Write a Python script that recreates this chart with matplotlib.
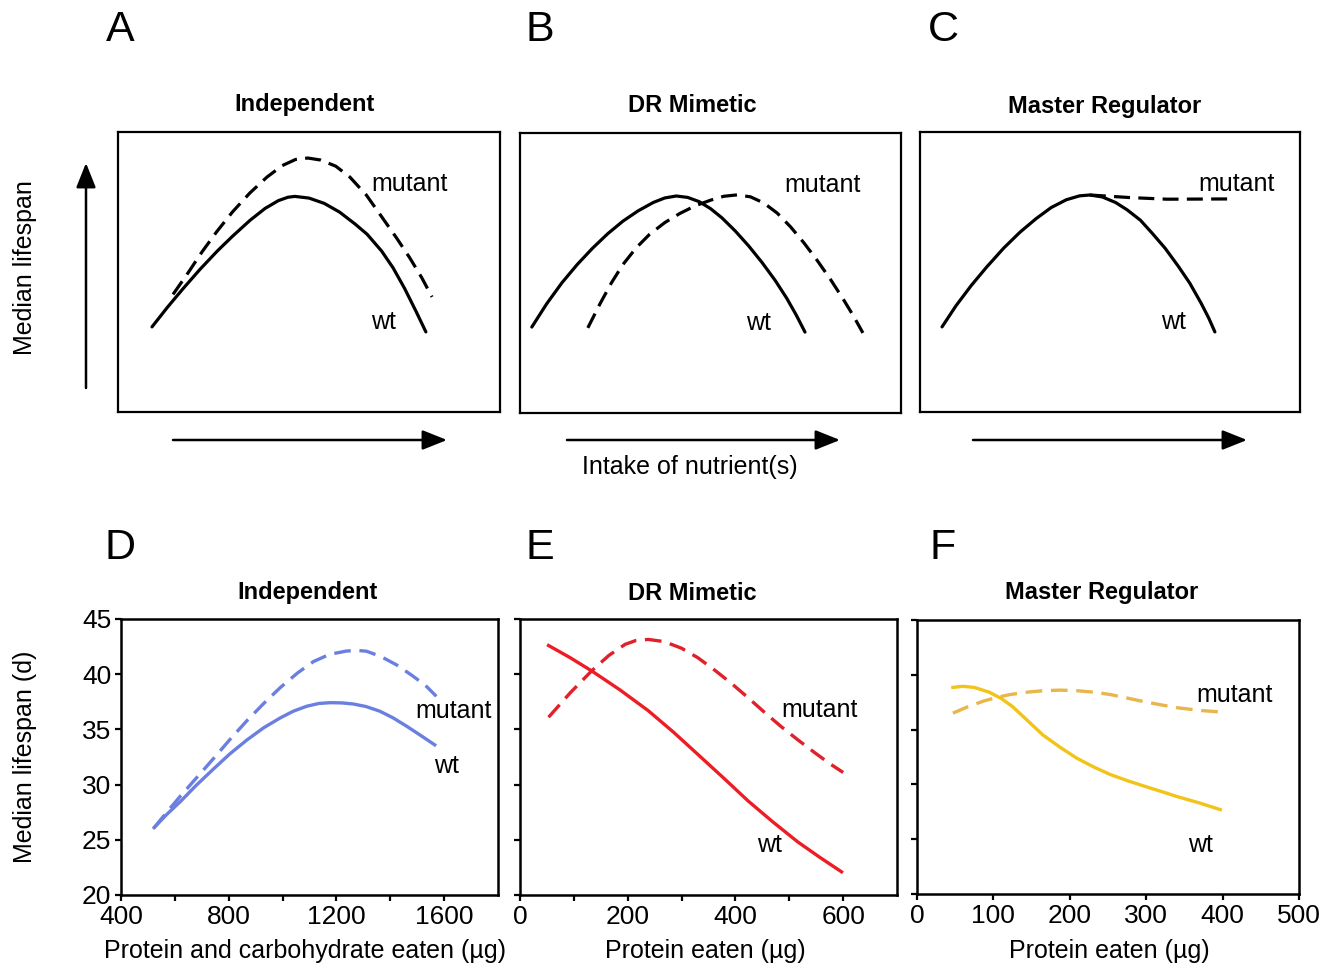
import matplotlib
matplotlib.use("Agg")
import matplotlib.pyplot as plt
from matplotlib.patches import FancyArrowPatch
import numpy as np

plt.rcParams['font.family'] = ['Liberation Sans', 'DejaVu Sans']

# ---- top row: schematic curves (arbitrary units, 0-10) ----
a_wt_x = [0.89, 1.3, 1.7, 2.15, 2.6, 3.0, 3.46, 3.85, 4.2, 4.45, 4.63, 5.0, 5.4, 5.8, 6.2, 6.52, 6.9, 7.2, 7.5, 7.8, 8.06]
a_wt_y = [3.04, 3.75, 4.4, 5.1, 5.75, 6.28, 6.85, 7.27, 7.55, 7.67, 7.7, 7.64, 7.45, 7.14, 6.72, 6.35, 5.75, 5.15, 4.42, 3.6, 2.86]
a_mut_x = [1.44, 1.8, 2.2, 2.59, 3.0, 3.45, 3.9, 4.3, 4.65, 4.97, 5.3, 5.7, 6.07, 6.5, 6.94, 7.3, 7.64, 7.95, 8.22]
a_mut_y = [4.2, 4.9, 5.72, 6.45, 7.15, 7.82, 8.39, 8.8, 9.02, 9.07, 9.0, 8.78, 8.39, 7.75, 6.9, 6.2, 5.5, 4.8, 4.11]

b_wt_x = [0.31, 0.7, 1.1, 1.5, 1.9, 2.3, 2.7, 3.1, 3.5, 3.8, 4.1, 4.4, 4.7, 5.0, 5.3, 5.65, 6.0, 6.35, 6.7, 7.0, 7.25, 7.48]
b_wt_y = [3.07, 3.9, 4.65, 5.3, 5.88, 6.4, 6.85, 7.22, 7.52, 7.68, 7.75, 7.7, 7.55, 7.3, 6.97, 6.5, 5.97, 5.38, 4.73, 4.1, 3.5, 2.89]
b_mut_x = [1.78, 2.1, 2.4, 2.7, 3.05, 3.4, 3.8, 4.2, 4.6, 5.0, 5.35, 5.7, 6.05, 6.4, 6.75, 7.1, 7.45, 7.8, 8.15, 8.5, 8.75, 9.0]
b_mut_y = [3.04, 3.9, 4.65, 5.3, 5.9, 6.38, 6.8, 7.13, 7.4, 7.6, 7.74, 7.79, 7.72, 7.5, 7.14, 6.65, 6.08, 5.45, 4.77, 4.03, 3.47, 2.86]

c_wt_x = [0.58, 0.95, 1.35, 1.75, 2.2, 2.63, 3.05, 3.45, 3.85, 4.2, 4.47, 4.8, 5.15, 5.45, 5.8, 6.1, 6.45, 6.8, 7.1, 7.4, 7.6, 7.76]
c_wt_y = [3.04, 3.8, 4.52, 5.17, 5.85, 6.42, 6.9, 7.3, 7.58, 7.72, 7.75, 7.68, 7.48, 7.22, 6.85, 6.4, 5.85, 5.2, 4.6, 3.88, 3.35, 2.86]
c_mut_x = [4.47, 5.5, 6.5, 8.24]
c_mut_y = [7.75, 7.66, 7.6, 7.61]

# ---- bottom row: median lifespan (d) ----
d_wt_x = [523, 570, 622, 680, 745, 805, 868, 930, 992, 1040, 1090, 1135, 1176, 1220, 1263, 1310, 1361, 1410, 1460, 1510, 1565]
d_wt_y = [26.1, 27.3, 28.5, 29.95, 31.45, 32.8, 34.05, 35.15, 36.05, 36.65, 37.1, 37.35, 37.42, 37.4, 37.3, 37.07, 36.65, 36.05, 35.3, 34.5, 33.6]
d_mut_x = [523, 570, 622, 680, 745, 805, 868, 930, 992, 1055, 1115, 1175, 1238, 1280, 1312, 1365, 1423, 1480, 1530, 1571]
d_mut_y = [26.1, 27.5, 29.0, 30.6, 32.4, 34.1, 35.8, 37.35, 38.8, 40.1, 41.15, 41.8, 42.1, 42.15, 42.08, 41.6, 40.85, 39.9, 39.0, 38.0]

e_wt_x = [53, 93, 133, 185, 238, 285, 331, 378, 424, 470, 516, 557, 597]
e_wt_y = [42.6, 41.5, 40.3, 38.6, 36.7, 34.75, 32.7, 30.6, 28.5, 26.6, 24.8, 23.4, 22.1]
e_mut_x = [53, 93, 133, 165, 195, 215, 238, 268, 300, 330, 362, 393, 424, 455, 485, 516, 547, 575, 600]
e_mut_y = [36.1, 38.3, 40.3, 41.7, 42.7, 43.05, 43.15, 42.95, 42.35, 41.5, 40.35, 39.15, 37.85, 36.5, 35.25, 34.05, 32.9, 31.9, 31.1]

f_wt_x = [47, 60, 75, 95, 110, 125, 145, 165, 187, 209, 231, 253, 275, 297, 320, 340, 370, 397]
f_wt_y = [38.85, 38.95, 38.85, 38.4, 37.85, 37.1, 35.8, 34.5, 33.4, 32.4, 31.6, 30.9, 30.35, 29.85, 29.35, 28.9, 28.3, 27.7]
f_mut_x = [47, 67, 87, 105, 122, 145, 165, 187, 209, 231, 253, 275, 297, 320, 340, 370, 399]
f_mut_y = [36.5, 37.1, 37.6, 37.95, 38.2, 38.42, 38.55, 38.6, 38.55, 38.42, 38.2, 37.88, 37.55, 37.25, 37.0, 36.75, 36.6]

titles = ["Independent", "DR Mimetic", "Master Regulator"]
letters_top = ["A", "B", "C"]
letters_bottom = ["D", "E", "F"]
xlabels = ["Protein and carbohydrate eaten (\u00b5g)", "Protein eaten (\u00b5g)", "Protein eaten (\u00b5g)"]

W, H = 1339, 968
fig = plt.figure(figsize=(W / 100, H / 100), dpi=100)


def box(left, top, right, bottom):
    return [left / W, 1 - bottom / H, (right - left) / W, (bottom - top) / H]


def ftext(x, y, s, **kw):
    # place text by pixel position (from the top-left corner)
    return fig.text(x / W, 1 - y / H, s, ha='center', va='center', **kw)


FS = 18
TFS = 17
dash = (5, 2.6)

# top row
top_boxes = [(118, 132, 500, 412), (520, 133, 901, 413), (920, 132, 1300, 412)]
top_data = [(a_wt_x, a_wt_y, a_mut_x, a_mut_y),
            (b_wt_x, b_wt_y, b_mut_x, b_mut_y),
            (c_wt_x, c_wt_y, c_mut_x, c_mut_y)]
top_lab = [((7.64, 8.14), (6.94, 3.21)), ((7.95, 8.14), (6.25, 3.21)), ((8.34, 8.14), (6.68, 3.21))]
top_title_pos = [(305, 105), (692, 105), (1105, 107)]

for i in range(3):
    ax = fig.add_axes(box(*top_boxes[i]))
    wx, wy, mx, my = top_data[i]
    ax.plot(wx, wy, color='black', lw=2.3, solid_capstyle='round', solid_joinstyle='round')
    ax.plot(mx, my, color='black', lw=2.3, dashes=dash)
    ax.set_xlim(0, 10)
    ax.set_ylim(0, 10)
    ax.set_xticks([])
    ax.set_yticks([])
    for s in ax.spines.values():
        s.set_linewidth(1.6)
    (mxl, myl), (wxl, wyl) = top_lab[i]
    ax.text(mxl, myl, "mutant", fontsize=FS, ha='center', va='center')
    ax.text(wxl, wyl, "wt", fontsize=FS, ha='center', va='center')
    ftext(*top_title_pos[i], titles[i], fontsize=TFS, fontweight='bold')

# arrows around top row
arrow_kw = dict(arrowstyle='-|>,head_length=1.0,head_width=0.4', mutation_scale=15,
                color='black', lw=1.8, shrinkA=0, shrinkB=0, transform=fig.transFigure)
fig.add_artist(FancyArrowPatch((86 / W, 1 - 388 / H), (86 / W, 1 - 163 / H), **arrow_kw))
for x0, x1 in [(173, 447), (567, 840), (973, 1247)]:
    fig.add_artist(FancyArrowPatch((x0 / W, 1 - 440 / H), (x1 / W, 1 - 440 / H), **arrow_kw))
ftext(25, 268, "Median lifespan", rotation=90, fontsize=FS)
ftext(690, 467, "Intake of nutrient(s)", fontsize=FS)

# bottom row
bot_boxes = [(121, 619, 498, 895), (520, 619, 897, 895), (917, 620, 1299, 894)]
bot_data = [(d_wt_x, d_wt_y, d_mut_x, d_mut_y),
            (e_wt_x, e_wt_y, e_mut_x, e_mut_y),
            (f_wt_x, f_wt_y, f_mut_x, f_mut_y)]
colors = [('#6a7fe0', '#6a7fe0'), ('#ee1c24', '#e0202a'), ('#f2c318', '#e8b64a')]
xlims = [(400, 1800), (0, 700), (0, 500)]
xticks = [np.arange(400, 1601, 200), np.arange(0, 601, 100), np.arange(0, 501, 100)]
bot_lab = [((1636, 36.7), (1608, 31.7)), ((557, 36.8), (464, 24.5)), ((415, 38.2), (371, 24.5))]
bot_title_pos = [(308, 593), (692, 593), (1102, 593)]
xlabel_pos = [(305, 951), (705, 951), (1109, 951)]

for i in range(3):
    ax = fig.add_axes(box(*bot_boxes[i]))
    wx, wy, mx, my = bot_data[i]
    ax.plot(wx, wy, color=colors[i][0], lw=2.4, solid_joinstyle='round')
    ax.plot(mx, my, color=colors[i][1], lw=2.4, dashes=dash)
    ax.set_xlim(*xlims[i])
    ax.set_ylim(20, 45)
    ax.set_xticks(xticks[i])
    if i == 2:
        ax.set_xticklabels([str(v) for v in xticks[i]])
    else:
        ax.set_xticklabels([str(v) if k % 2 == 0 else "" for k, v in enumerate(xticks[i])])
    ax.set_yticks(np.arange(20, 46, 5))
    if i > 0:
        ax.set_yticklabels([])
    ax.tick_params(direction='out', length=4, width=1.6, labelsize=19, pad=3)
    for s in ax.spines.values():
        s.set_linewidth(1.8)
    (mxl, myl), (wxl, wyl) = bot_lab[i]
    ax.text(mxl, myl, "mutant", fontsize=FS, ha='center', va='center', clip_on=False)
    ax.text(wxl, wyl, "wt", fontsize=FS, ha='center', va='center')
    ftext(*bot_title_pos[i], titles[i], fontsize=TFS, fontweight='bold')
    ftext(*xlabel_pos[i], xlabels[i], fontsize=FS)

ftext(25, 757, "Median lifespan (d)", rotation=90, fontsize=FS)

for k, xp in enumerate([120, 540, 943]):
    ftext(xp, 30, letters_top[k], fontsize=31)
    ftext(xp, 548, letters_bottom[k], fontsize=31)

fig.savefig("out.png", dpi=100, facecolor='white')
